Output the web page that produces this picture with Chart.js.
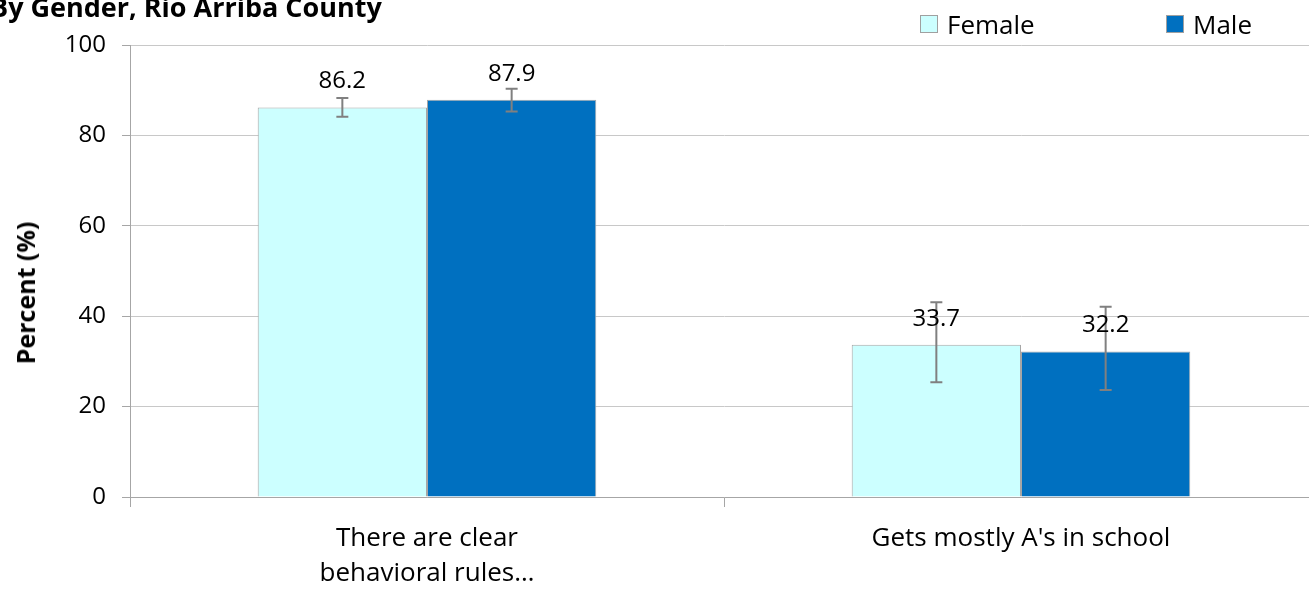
<!DOCTYPE html>
<html>
<head>
<meta charset="utf-8">
<script src="https://cdn.jsdelivr.net/npm/chart.js@4/dist/chart.umd.min.js"></script>
<style>
  body { margin: 0; overflow: hidden; background: #fff; font-family: "Open Sans", sans-serif; }
  #wrap { position: relative; width: 1309px; height: 594px; overflow: hidden; }
  #title { position: absolute; left: -10px; top: -7px; line-height: 1; font-weight: bold; font-size: 27px; color: #000; white-space: nowrap; }
  #ytitle { position: absolute; left: 25px; top: 293px; transform: translate(-50%, -50%) rotate(-90deg); font-weight: bold; font-size: 25px; color: #000; white-space: nowrap; }
  .leg { position: absolute; top: 6px; font-size: 26px; color: #000; display: flex; align-items: center; }
  .leg span.box { display: inline-block; width: 16px; height: 16px; border: 1px solid #a0a0a0; margin-right: 9px; }
  canvas { position: absolute; left: 0; top: 0; }
</style>
</head>
<body>
<div id="wrap">
  <canvas id="chart" width="1318" height="594"></canvas>
  <div id="title">By Gender, Rio Arriba County</div>
  <div id="ytitle">Percent (%)</div>
  <div class="leg" style="left:920px"><span class="box" style="background:#ccffff"></span>Female</div>
  <div class="leg" style="left:1166px"><span class="box" style="background:#0070c0"></span>Male</div>
</div>
<script>
const categories = [['There are clear', 'behavioral rules…'], "Gets mostly A's in school"];
const female = [86.2, 33.7];
const male = [87.9, 32.2];
const femaleLow = [84.1, 25.4];
const femaleHigh = [88.3, 43.1];
const maleLow = [85.3, 23.7];
const maleHigh = [90.3, 42.1];
const yTicks = [0, 20, 40, 60, 80, 100];

const errorRanges = [
    { low: femaleLow, high: femaleHigh },
    { low: maleLow, high: maleHigh }
];

const barExtras = {
    id: 'barExtras',
    afterDatasetsDraw(chart) {
        const ctx = chart.ctx;
        const yScale = chart.scales.y;
        ctx.save();
        chart.data.datasets.forEach((ds, di) => {
            const meta = chart.getDatasetMeta(di);
            meta.data.forEach((bar, i) => {
                // error bar
                const yLo = yScale.getPixelForValue(errorRanges[di].low[i]);
                const yHi = yScale.getPixelForValue(errorRanges[di].high[i]);
                ctx.strokeStyle = '#808080';
                ctx.lineWidth = 2;
                ctx.beginPath();
                ctx.moveTo(bar.x, yLo);
                ctx.lineTo(bar.x, yHi);
                ctx.moveTo(bar.x - 6, yLo);
                ctx.lineTo(bar.x + 6, yLo);
                ctx.moveTo(bar.x - 6, yHi);
                ctx.lineTo(bar.x + 6, yHi);
                ctx.stroke();
                // value label
                ctx.fillStyle = '#000';
                ctx.font = '24px "Open Sans"';
                ctx.textAlign = 'center';
                ctx.textBaseline = 'middle';
                ctx.fillText(ds.data[i].toFixed(1), bar.x, bar.y - 26);
            });
        });
        ctx.restore();
    }
};

new Chart(document.getElementById('chart'), {
    type: 'bar',
    data: {
        labels: categories,
        datasets: [
            {
                label: 'Female',
                data: female,
                backgroundColor: '#ccffff',
                borderColor: '#a6a6a6',
                borderWidth: 1,
                barPercentage: 1,
                categoryPercentage: 0.57
            },
            {
                label: 'Male',
                data: male,
                backgroundColor: '#0070c0',
                borderColor: '#a6a6a6',
                borderWidth: 1,
                barPercentage: 1,
                categoryPercentage: 0.57
            }
        ]
    },
    options: {
        responsive: false,
        animation: false,
        layout: { padding: { top: 45, right: 0, left: 0, bottom: 0 } },
        plugins: {
            legend: { display: false },
            tooltip: { enabled: false }
        },
        scales: {
            x: {
                offset: true,
                grid: {
                    offset: true,
                    drawOnChartArea: false,
                    drawTicks: true,
                    tickLength: 10,
                    color: '#a6a6a6'
                },
                border: { color: '#a6a6a6' },
                ticks: {
                    color: '#000',
                    padding: 14,
                    maxRotation: 0,
                    font: { family: 'Open Sans', size: 26, lineHeight: 1.36 }
                },
                afterFit(scale) { scale.height = 97; }
            },
            y: {
                min: 0,
                max: 100,
                afterBuildTicks(scale) { scale.ticks = yTicks.map(v => ({ value: v })); },
                grid: {
                    color: '#c8c8c8',
                    tickLength: 8,
                    tickColor: '#a6a6a6'
                },
                border: { color: '#a6a6a6' },
                ticks: {
                    color: '#000',
                    padding: 16,
                    font: { family: 'Open Sans', size: 24 }
                },
                afterFit(scale) { scale.width = 130; }
            }
        }
    },
    plugins: [barExtras]
});
</script>
</body>
</html>
